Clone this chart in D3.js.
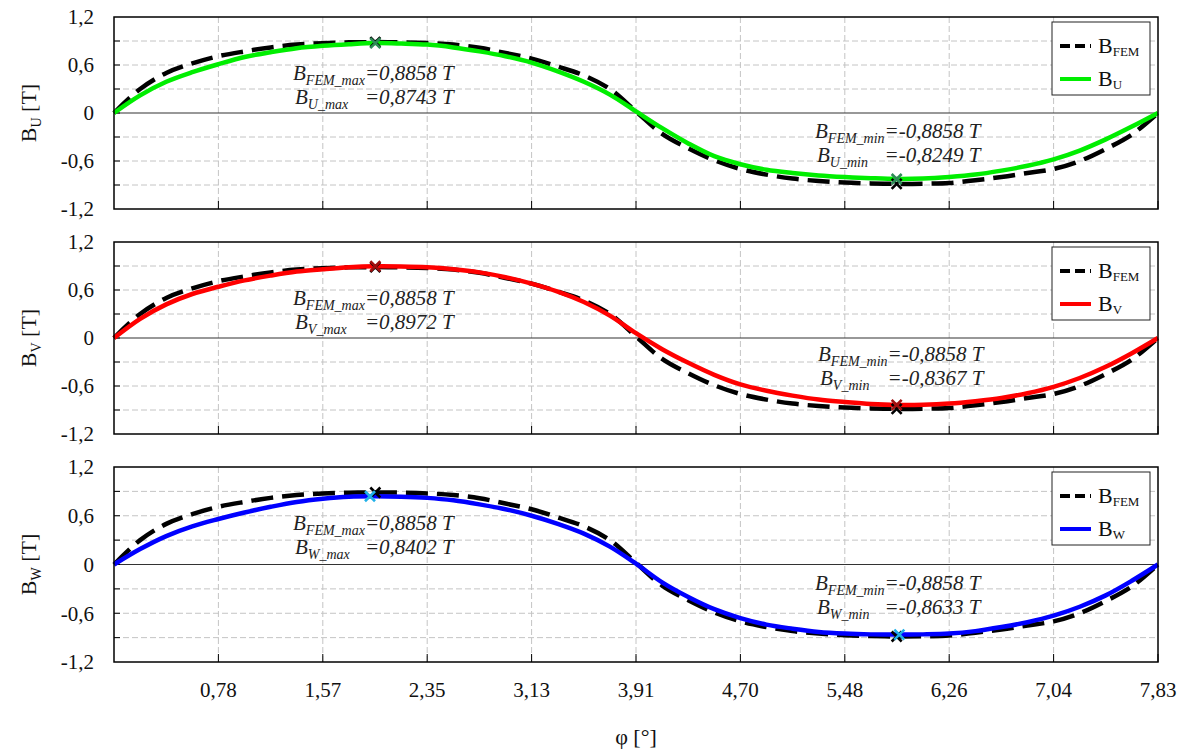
<!DOCTYPE html>
<html><head><meta charset="utf-8">
<script src="https://cdn.jsdelivr.net/npm/d3@7"></script>
<style>body{margin:0;background:#fff;}svg{display:block;}</style>
</head><body>
<svg id="c" width="1185" height="749"></svg>
<script>
const phi = [0,0.196,0.392,0.587,0.783,0.979,1.175,1.370,1.566,1.762,1.958,2.153,2.349,2.545,2.741,2.936,3.132,3.328,3.524,3.719,3.915,4.111,4.307,4.502,4.698,4.894,5.089,5.285,5.481,5.677,5.872,6.068,6.264,6.460,6.656,6.851,7.047,7.243,7.438,7.634,7.830];
const bFEM = [0,0.30,0.50,0.62,0.71,0.77,0.82,0.855,0.873,0.883,0.886,0.884,0.875,0.855,0.815,0.75,0.68,0.58,0.47,0.30,0.02,-0.26,-0.44,-0.59,-0.70,-0.77,-0.82,-0.85,-0.87,-0.88,-0.886,-0.884,-0.875,-0.84,-0.80,-0.75,-0.70,-0.60,-0.45,-0.27,0];
const bU = [0,0.22,0.39,0.51,0.61,0.70,0.76,0.81,0.84,0.86,0.874,0.868,0.855,0.82,0.77,0.71,0.63,0.52,0.39,0.23,0.02,-0.19,-0.38,-0.54,-0.64,-0.71,-0.75,-0.78,-0.80,-0.815,-0.825,-0.82,-0.80,-0.77,-0.72,-0.66,-0.58,-0.47,-0.33,-0.17,0];
const bV = [0,0.24,0.42,0.55,0.64,0.72,0.78,0.83,0.86,0.885,0.897,0.895,0.885,0.86,0.82,0.76,0.68,0.58,0.45,0.28,0.06,-0.14,-0.31,-0.46,-0.58,-0.66,-0.72,-0.77,-0.80,-0.825,-0.837,-0.835,-0.82,-0.79,-0.75,-0.69,-0.61,-0.50,-0.36,-0.19,0];
const bW = [0,0.19,0.35,0.47,0.56,0.64,0.71,0.77,0.81,0.835,0.840,0.835,0.82,0.79,0.74,0.68,0.60,0.50,0.38,0.22,0.01,-0.22,-0.40,-0.55,-0.66,-0.74,-0.79,-0.83,-0.85,-0.86,-0.863,-0.86,-0.85,-0.82,-0.77,-0.71,-0.63,-0.52,-0.38,-0.20,0];

const xTickValues = [0.783,1.566,2.349,3.132,3.915,4.698,5.481,6.264,7.047,7.830];
const xTickLabels = ["0,78","1,57","2,35","3,13","3,91","4,70","5,48","6,26","7,04","7,83"];
const yTickValues = [-1.2,-0.6,0,0.6,1.2];
const yTickLabels = ["-1,2","-0,6","0","0,6","1,2"];
const yGridValues = [-0.9,-0.6,-0.3,0.3,0.6,0.9];
const yMinorTicks = [-0.9,-0.6,-0.3,0,0.3,0.6,0.9];

const panelNames = ["U","V","W"];
const panelSeries = [bU,bV,bW];
const panelColors = ["#00ee00","#ff0000","#0000ff"];
const markerColors = ["#2e8b57","#a01010","#20b0e8"];
const femMax = ["0,8858","0,8858","0,8858"];
const femMin = ["-0,8858","-0,8858","-0,8858"];
const seriesMax = ["0,8743","0,8972","0,8402"];
const seriesMin = ["-0,8249","-0,8367","-0,8633"];
const maxPhi = [1.96,1.96,1.92];
const minPhi = [5.87,5.87,5.89];
const femMaxPhi = 1.96, femMinPhi = 5.87;

const svg = d3.select("#c");
const L = 114, R = 1158;
const panels = [{top:17,bottom:209},{top:242,bottom:434},{top:467,bottom:662}];
const x = d3.scaleLinear().domain([0,7.83]).range([L,R]);
const serif = '"Liberation Serif", "Times New Roman", serif';
function txt(sel){ return sel.style("font-family", serif); }

panels.forEach((p,pi)=>{
  const y = d3.scaleLinear().domain([-1.2,1.2]).range([p.bottom,p.top]);
  const g = svg.append("g");
  g.selectAll(".hg").data(yGridValues).enter().append("line")
    .attr("x1",L).attr("x2",R).attr("y1",d=>y(d)).attr("y2",d=>y(d))
    .attr("stroke","#c4c4c4").attr("stroke-width",1).attr("stroke-dasharray","6,3");
  g.selectAll(".vg").data(xTickValues.slice(0,-1)).enter().append("line")
    .attr("x1",d=>x(d)).attr("x2",d=>x(d)).attr("y1",p.top).attr("y2",p.bottom)
    .attr("stroke","#c4c4c4").attr("stroke-width",1).attr("stroke-dasharray","6,3");
  g.append("line").attr("x1",L).attr("x2",R).attr("y1",y(0)).attr("y2",y(0))
    .attr("stroke","#333").attr("stroke-width",1.2);
  g.selectAll(".yt").data(yMinorTicks).enter().append("line")
    .attr("x1",L).attr("x2",L+6).attr("y1",d=>y(d)).attr("y2",d=>y(d))
    .attr("stroke","#000").attr("stroke-width",1);
  g.selectAll(".xt").data(xTickValues).enter().append("line")
    .attr("x1",d=>x(d)).attr("x2",d=>x(d)).attr("y1",p.bottom).attr("y2",p.bottom-8)
    .attr("stroke","#000").attr("stroke-width",1);
  txt(g.selectAll(".yl").data(yTickValues).enter().append("text")
    .attr("x",94).attr("y",d=>y(d)).attr("dy","0.35em").attr("text-anchor","end")
    .attr("font-size",21).attr("fill","#111")
    .text((d,i)=>yTickLabels[i]));
  const yc = (p.top+p.bottom)/2;
  const t = txt(g.append("text").attr("transform",`translate(36,${yc}) rotate(-90)`)
    .attr("text-anchor","middle").attr("font-size",22).attr("fill","#111"));
  t.append("tspan").text("B");
  t.append("tspan").attr("font-size",14).attr("dy",5).text(panelNames[pi]);
  t.append("tspan").attr("dy",-5).text(" [T]");

  const line = d3.line().x((d,i)=>x(phi[i])).y(d=>y(d)).curve(d3.curveCatmullRom);
  g.append("path").attr("d",line(bFEM)).attr("fill","none").attr("stroke","#000")
    .attr("stroke-width",4.5).attr("stroke-dasharray","22,9");
  g.append("path").attr("d",line(panelSeries[pi])).attr("fill","none").attr("stroke",panelColors[pi])
    .attr("stroke-width",4.5);

  function cross(cx,cy,col){
    const s=5;
    g.append("path").attr("d",`M${cx-s},${cy-s}L${cx+s},${cy+s}M${cx-s},${cy+s}L${cx+s},${cy-s}`)
      .attr("stroke",col).attr("stroke-width",2.6).attr("fill","none");
  }
  cross(x(femMaxPhi),y(0.8858),"#000");
  cross(x(femMinPhi),y(-0.8858),"#000");
  const smax = +seriesMax[pi].replace(",",".");
  const smin = +seriesMin[pi].replace(",",".");
  cross(x(maxPhi[pi]),y(smax),markerColors[pi]);
  cross(x(minPhi[pi]),y(smin),markerColors[pi]);

  function annot(ax,ay,sub1,val1,sub2,val2){
    const a1 = txt(g.append("text").attr("x",ax).attr("y",ay)
      .attr("font-style","italic").attr("font-size",21).attr("fill","#222"));
    a1.append("tspan").text("B");
    a1.append("tspan").attr("font-size",14).attr("dy",5).text(sub1);
    const w = a1.node().getComputedTextLength();
    txt(g.append("text").attr("x",ax+w).attr("y",ay)
      .attr("font-style","italic").attr("font-size",21).attr("fill","#222").text("="+val1+" T"));
    const a2 = txt(g.append("text").attr("x",ax+2).attr("y",ay+24)
      .attr("font-style","italic").attr("font-size",21).attr("fill","#222"));
    a2.append("tspan").text("B");
    a2.append("tspan").attr("font-size",14).attr("dy",5).text(sub2);
    txt(g.append("text").attr("x",ax+w).attr("y",ay+24)
      .attr("font-style","italic").attr("font-size",21).attr("fill","#222").text("="+val2+" T"));
  }
  annot(293, p.top+63, "FEM_max", femMax[pi], panelNames[pi]+"_max", seriesMax[pi]);
  annot(pi===1?818:815, p.top+(pi===1?119:121)+(pi===2?2:0), "FEM_min", femMin[pi], panelNames[pi]+"_min", seriesMin[pi]);

  const lx=1052, ly=p.top+5;
  g.append("rect").attr("x",lx).attr("y",ly).attr("width",98).attr("height",73)
    .attr("fill","#fff").attr("stroke","#222").attr("stroke-width",1);
  g.append("line").attr("x1",lx+8).attr("x2",lx+39).attr("y1",ly+24).attr("y2",ly+24)
    .attr("stroke","#000").attr("stroke-width",4).attr("stroke-dasharray","10,5");
  g.append("line").attr("x1",lx+8).attr("x2",lx+39).attr("y1",ly+57).attr("y2",ly+57)
    .attr("stroke",panelColors[pi]).attr("stroke-width",4);
  const l1 = txt(g.append("text").attr("x",lx+46).attr("y",ly+31).attr("font-size",22).attr("fill","#111"));
  l1.append("tspan").text("B"); l1.append("tspan").attr("font-size",13).attr("dy",3).text("FEM");
  const l2 = txt(g.append("text").attr("x",lx+46).attr("y",ly+64).attr("font-size",22).attr("fill","#111"));
  l2.append("tspan").text("B"); l2.append("tspan").attr("font-size",13).attr("dy",3).text(panelNames[pi]);

  g.append("rect").attr("x",L).attr("y",p.top).attr("width",R-L).attr("height",p.bottom-p.top)
    .attr("fill","none").attr("stroke","#000").attr("stroke-width",1.5);
});

txt(svg.selectAll(".xl").data(xTickValues).enter().append("text")
  .attr("x",d=>x(d)).attr("y",697).attr("text-anchor","middle")
  .attr("font-size",21).attr("fill","#111")
  .text((d,i)=>xTickLabels[i]));
txt(svg.append("text").attr("x",636).attr("y",744).attr("text-anchor","middle")
  .attr("font-size",22).attr("fill","#111").text("φ [°]"));
</script>
</body></html>
